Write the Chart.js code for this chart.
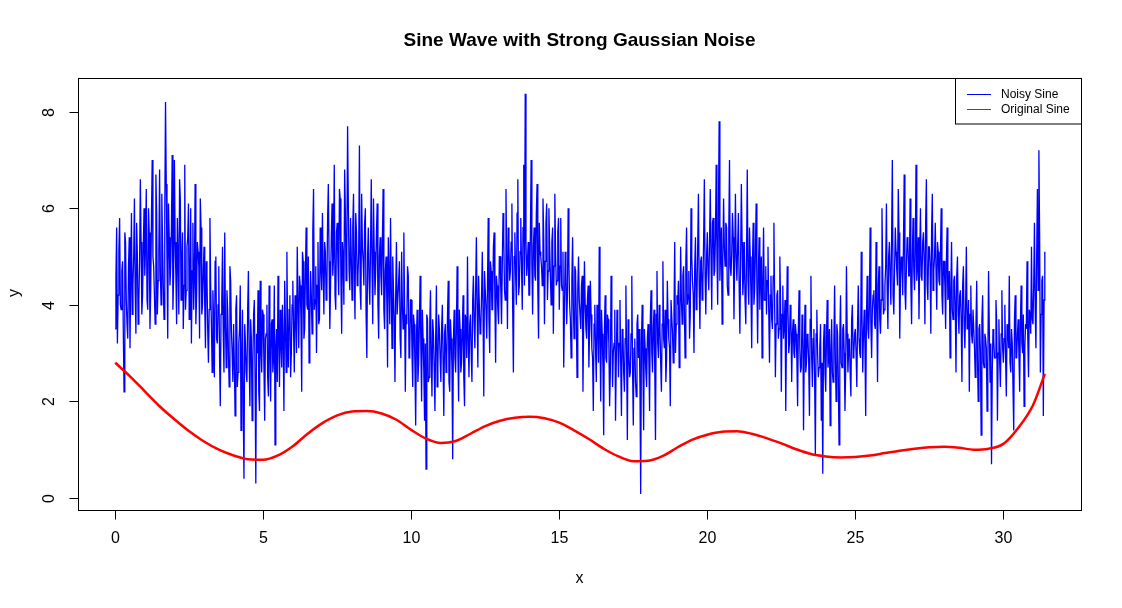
<!DOCTYPE html>
<html>
<head>
<meta charset="utf-8">
<script src="https://cdn.jsdelivr.net/npm/chart.js@4.4.1/dist/chart.umd.min.js"></script>
<style>
  html, body { margin: 0; padding: 0; background: #fff; }
  canvas { display: block; }
</style>
</head>
<body>
<canvas id="sine-chart" width="1122" height="608"></canvas>
<script>
(function () {
  // noisy series, sampled every 0.05 on x (0 .. 31.4), one row per unit of x
  var X_STEP = 0.05;
  var noisyY = [
    3.5, 5.6, 4.2, 5.8, 3.9, 4.9, 2.2, 5.3, 3.6, 4.8, 3.1, 5.9, 4.4, 6.2, 3.4, 5.0, 4.1, 6.6, 3.8, 5.2,
    4.6, 6.4, 3.9, 5.5, 4.3, 7.0, 4.8, 3.6, 5.9, 4.5, 6.8, 4.0, 5.3, 3.7, 8.2, 4.9, 6.1, 4.4, 5.6, 3.9,
    7.0, 4.6, 5.8, 3.8, 6.2, 4.9, 3.5, 6.9, 4.3, 5.4, 3.7, 6.0, 4.7, 3.9, 6.5, 4.2, 5.1, 3.3, 5.6, 4.0,
    5.2, 3.1, 4.6, 2.8, 5.8, 3.6, 4.3, 2.5, 5.0, 3.2, 4.8, 1.9, 4.1, 3.4, 5.5, 2.7, 3.9, 2.3, 4.5, 3.0,
    3.6, 1.7, 4.2, 2.6, 3.5, 1.4, 3.9, 0.4, 3.2, 2.4, 4.7, 1.9, 3.3, 2.8, 4.1, 0.3, 3.0, 2.2, 4.5, 2.6,
    3.8, 1.6, 3.4, 2.5, 4.4, 2.0, 3.7, 2.9, 1.1, 3.5, 4.6, 2.3, 3.2, 4.0, 1.8, 3.6, 5.1, 2.7, 4.2, 3.0,
    4.5, 2.6, 3.8, 5.2, 3.1, 4.4, 2.2, 4.9, 3.5, 5.6, 3.9, 2.8, 4.7, 3.4, 6.4, 4.1, 3.0, 5.3, 3.7, 4.8,
    5.9, 3.8, 5.1, 4.3, 6.5, 3.5, 5.4, 4.6, 6.9, 3.9, 5.7, 4.2, 6.2, 3.4, 5.0, 6.8, 4.5, 7.7, 4.7, 5.8,
    4.1, 6.3, 3.7, 5.5, 4.6, 7.3, 3.9, 5.2, 4.4, 6.0, 2.9, 5.6, 4.0, 6.6, 3.6, 5.1, 4.7, 6.1, 3.3, 5.4,
    4.2, 6.4, 3.5, 5.0, 2.7, 4.6, 5.8, 3.1, 4.3, 2.4, 5.3, 3.8, 4.9, 2.9, 4.0, 5.5, 2.2, 3.6, 4.6, 3.0,
    4.1, 2.3, 3.6, 1.5, 3.9, 2.8, 4.6, 2.0, 3.3, 1.6, 0.6, 3.7, 2.5, 4.3, 2.1, 3.4, 1.8, 4.4, 2.7, 3.5,
    2.4, 4.0, 1.7, 3.6, 2.9, 4.5, 2.2, 3.3, 0.8, 3.9, 2.6, 4.8, 2.0, 3.5, 2.8, 4.2, 1.9, 3.7, 5.0, 2.5,
    3.8, 2.4, 4.6, 3.1, 5.4, 2.7, 4.0, 3.5, 5.1, 2.1, 4.3, 3.3, 5.8, 3.0, 4.7, 3.9, 5.5, 2.8, 4.4, 3.6,
    5.0, 3.6, 5.9, 4.3, 6.4, 3.5, 5.2, 4.7, 6.1, 2.6, 5.5, 4.0, 6.6, 4.4, 5.8, 3.9, 6.9, 8.37, 4.6, 5.3,
    4.2, 7.0, 3.8, 5.6, 4.5, 6.5, 3.3, 5.1, 4.8, 6.2, 3.6, 5.7, 4.1, 6.0, 4.6, 5.3, 3.4, 6.3, 4.4, 5.5,
    3.9, 5.8, 4.3, 2.7, 5.1, 3.6, 6.0, 4.0, 2.9, 5.4, 3.3, 4.7, 2.5, 5.0, 3.8, 4.4, 2.2, 4.9, 3.5, 4.1,
    2.7, 4.5, 3.1, 1.8, 4.0, 2.4, 3.6, 5.2, 2.0, 3.4, 1.3, 4.2, 2.8, 3.7, 1.9, 4.6, 2.3, 3.2, 1.6, 3.9,
    2.5, 4.1, 1.7, 3.4, 2.2, 4.4, 1.2, 3.0, 2.6, 4.6, 1.5, 3.3, 2.1, 3.8, 3.5, 0.08, 4.0, 1.4, 3.1, 2.3,
    3.6, 1.8, 4.3, 2.6, 3.9, 1.2, 4.7, 2.9, 3.5, 2.2, 4.9, 3.1, 2.4, 4.5, 3.3, 1.9, 4.1, 2.8, 5.3, 3.6,
    4.0, 2.7, 5.2, 3.6, 4.8, 2.9, 5.6, 4.2, 3.3, 6.0, 4.5, 3.0, 5.4, 4.1, 6.3, 3.5, 5.0, 4.4, 6.6, 3.8,
    5.5, 4.3, 6.4, 3.9, 5.8, 4.7, 6.9, 4.0, 7.8, 5.1, 3.6, 6.2, 4.8, 5.6, 4.2, 7.0, 4.6, 5.9, 3.7, 6.3,
    4.5, 5.9, 3.4, 6.5, 4.2, 5.3, 3.6, 6.8, 4.0, 5.0, 3.1, 5.7, 4.3, 6.1, 3.2, 5.4, 4.7, 2.9, 5.6, 4.1,
    3.8, 5.2, 2.8, 4.6, 3.5, 5.7, 2.5, 4.2, 3.3, 5.0, 2.2, 4.4, 3.6, 1.8, 4.8, 3.0, 4.0, 2.4, 3.7, 2.9,
    3.4, 1.9, 4.3, 2.6, 3.8, 1.4, 4.0, 2.8, 3.3, 1.7, 4.6, 2.3, 3.5, 0.9, 3.9, 2.5, 3.1, 1.6, 0.5, 3.6,
    2.2, 4.1, 2.9, 1.5, 3.7, 2.4, 4.4, 2.0, 3.4, 1.1, 4.2, 2.7, 3.6, 1.8, 4.8, 2.6, 3.3, 2.1, 4.0, 3.0,
    3.5, 2.3, 4.4, 3.0, 5.1, 2.6, 3.9, 1.7, 4.6, 3.3, 5.6, 2.9, 4.2, 3.6, 5.3, 2.4, 4.8, 3.4, 6.0, 3.8,
    4.4, 6.1, 3.5, 5.3, 4.0, 7.0, 3.8, 5.6, 4.7, 6.4, 3.3, 5.0, 4.2, 6.7, 3.9, 5.4, 4.6, 6.2, 3.6, 5.8,
    4.3, 6.9, 4.8, 3.7, 6.0, 4.5, 5.5, 3.6, 6.6, 4.1, 5.2, 3.4, 6.3, 4.7, 5.7, 3.9, 5.1, 4.4, 6.0, 3.8,
    4.9, 3.5, 5.6, 4.2, 2.9, 5.3, 3.7, 4.6, 2.6, 5.0, 3.4, 4.3, 2.4, 4.8, 3.1, 5.2, 3.6, 2.2, 4.4, 3.2,
    3.9, 2.5, 4.5, 2.0, 3.6, 1.3, 4.2, 2.7, 3.3, 1.8, 4.7, 2.4, 0.7, 3.5, 2.9, 4.1, 1.6, 3.7, 2.3, 4.3,
    2.8, 4.0, 2.1, 3.5, 4.6, 2.6, 3.2, 1.4, 4.2, 2.9, 3.7, 2.2, 4.4, 3.0, 1.9, 3.6, 4.9, 2.5, 3.8, 5.2,
    3.6, 5.7, 3.1, 6.4, 7.2, 2.6, 4.5, 1.7, 5.1
  ];

  // in-between samples, each one 0.025 to the right of the matching noisyY sample
  var noisyMidY = [
    4.6, 3.2, 5.1, 4.0, 4.7, 3.4, 5.5, 4.1, 3.3, 5.4, 4.5, 3.8, 5.0, 4.3, 5.7, 3.6, 4.9, 5.3, 4.2, 6.0,
    5.2, 4.1, 6.0, 3.5, 5.8, 5.0, 4.2, 6.7, 3.8, 5.1, 4.7, 6.3, 4.4, 5.9, 6.5, 3.3, 5.4, 4.8, 7.1, 4.6,
    5.3, 3.6, 5.0, 6.6, 4.1, 5.5, 4.4, 3.9, 5.2, 6.1, 4.6, 3.2, 5.7, 4.5, 3.6, 5.3, 4.8, 6.2, 3.8, 4.7,
    4.0, 4.9, 3.5, 3.9, 4.4, 2.6, 3.7, 4.9, 3.3, 4.0, 2.9, 3.8, 5.2, 2.6, 3.6, 4.3, 3.0, 4.8, 3.5, 2.4,
    2.8, 3.9, 2.3, 3.2, 4.4, 2.9, 1.9, 3.6, 2.6, 3.9, 2.9, 3.7, 1.6, 3.8, 2.5, 3.4, 4.3, 1.8, 3.1, 3.9,
    2.7, 3.3, 4.0, 2.1, 3.0, 3.6, 2.6, 4.4, 3.1, 2.4, 3.3, 3.9, 2.7, 3.2, 4.5, 2.6, 3.4, 3.9, 2.5, 4.0,
    3.5, 4.2, 3.0, 4.0, 4.6, 3.7, 5.1, 3.3, 4.6, 4.0, 5.0, 3.6, 4.2, 5.5, 3.9, 4.8, 4.4, 3.6, 5.6, 4.3,
    4.7, 5.3, 4.1, 5.8, 4.9, 4.4, 6.1, 5.0, 4.2, 5.5, 4.8, 6.4, 4.5, 5.3, 4.0, 5.9, 5.2, 6.1, 4.3, 5.0,
    5.6, 4.7, 5.9, 4.4, 5.1, 4.3, 6.3, 4.9, 5.7, 3.8, 5.0, 4.5, 5.2, 4.8, 6.2, 4.2, 5.5, 4.0, 5.0, 4.6,
    5.3, 3.9, 4.7, 4.1, 5.4, 3.6, 4.4, 5.0, 3.7, 4.2, 3.8, 4.5, 3.3, 5.1, 3.5, 4.0, 3.8, 4.8, 2.9, 4.1,
    3.0, 3.8, 2.7, 3.3, 2.4, 3.6, 3.1, 3.9, 2.6, 3.2, 3.8, 2.4, 3.6, 2.9, 3.7, 2.7, 3.3, 2.3, 3.8, 2.9,
    3.5, 2.8, 3.4, 2.6, 3.8, 2.4, 3.7, 2.7, 3.3, 2.9, 3.5, 3.0, 3.9, 2.6, 3.4, 2.5, 3.8, 2.9, 3.3, 3.6,
    3.0, 4.1, 3.6, 4.3, 3.9, 4.6, 3.4, 4.2, 3.8, 4.7, 3.9, 4.4, 3.7, 4.9, 3.9, 5.2, 4.1, 4.6, 3.9, 5.0,
    4.3, 4.8, 5.4, 4.1, 4.9, 5.6, 4.5, 5.3, 4.0, 5.0, 4.6, 5.9, 4.2, 5.1, 4.8, 5.6, 4.4, 5.3, 4.9, 4.2,
    5.5, 4.8, 5.2, 4.6, 5.9, 4.3, 5.7, 5.0, 4.4, 5.4, 4.9, 6.1, 4.7, 5.2, 4.0, 5.6, 4.8, 5.1, 4.5, 5.8,
    4.8, 4.4, 5.1, 3.9, 4.6, 4.2, 4.9, 3.7, 4.5, 4.0, 4.8, 3.8, 4.3, 4.1, 3.5, 4.6, 3.7, 4.0, 3.3, 4.4,
    3.5, 3.8, 2.9, 3.6, 3.1, 4.0, 2.8, 3.3, 3.9, 2.7, 3.5, 2.9, 3.8, 3.2, 2.6, 3.6, 3.0, 3.9, 2.8, 3.4,
    3.2, 2.8, 3.5, 2.6, 3.3, 2.9, 3.7, 2.5, 3.4, 2.7, 3.1, 2.4, 3.6, 2.9, 2.3, 3.2, 2.7, 3.5, 2.6, 3.3,
    2.9, 3.7, 3.0, 3.5, 2.7, 3.8, 3.2, 4.0, 2.8, 3.6, 3.3, 3.9, 2.9, 3.7, 3.1, 4.1, 3.4, 3.8, 3.0, 4.2,
    4.5, 3.7, 4.1, 4.6, 3.9, 4.9, 4.0, 4.7, 3.8, 5.0, 4.2, 4.8, 3.9, 5.2, 4.4, 4.9, 4.1, 5.3, 4.6, 5.0,
    4.7, 5.3, 5.0, 5.7, 4.6, 5.4, 5.1, 5.8, 4.5, 5.6, 4.9, 5.2, 5.7, 4.4, 5.5, 4.8, 5.1, 5.4, 4.9, 5.0,
    5.2, 4.4, 4.9, 5.3, 4.6, 4.1, 5.0, 4.5, 5.6, 4.2, 4.8, 4.0, 5.1, 4.4, 4.7, 3.9, 5.0, 4.5, 4.1, 4.8,
    4.5, 3.9, 4.2, 3.7, 4.6, 4.0, 3.6, 4.3, 3.5, 4.0, 3.8, 3.3, 4.1, 3.5, 3.9, 3.2, 3.7, 3.4, 3.0, 3.6,
    2.9, 3.5, 3.1, 2.7, 3.6, 3.0, 2.6, 3.4, 2.8, 3.7, 2.9, 3.3, 2.5, 3.4, 3.0, 2.7, 3.6, 2.8, 3.2, 2.6,
    3.3, 2.7, 3.5, 3.0, 2.6, 3.2, 2.9, 3.6, 2.5, 3.3, 2.8, 3.5, 3.0, 2.7, 3.4, 3.1, 2.6, 3.7, 2.9, 3.4,
    3.0, 3.6, 3.3, 2.9, 3.8, 3.4, 3.1, 3.7, 3.5, 4.0, 3.6, 3.9, 4.3, 3.5, 3.9, 4.4, 3.7, 4.1, 4.6, 3.9,
    4.8, 4.3, 5.0, 4.6, 5.4, 4.2, 4.7, 5.1, 4.4, 5.5, 4.5, 4.9, 5.2, 4.3, 4.8, 5.3, 4.6, 4.4, 5.0, 4.7,
    5.1, 4.5, 5.4, 5.0, 4.6, 5.3, 4.9, 5.7, 4.4, 5.2, 4.8, 5.5, 4.3, 5.0, 4.7, 5.3, 4.5, 5.1, 4.2, 4.9,
    4.4, 4.9, 4.1, 4.7, 4.3, 3.9, 4.5, 4.0, 4.6, 3.8, 4.2, 3.7, 4.4, 3.6, 4.0, 3.5, 4.1, 3.8, 3.4, 3.9,
    3.1, 3.6, 2.9, 3.5, 3.0, 3.7, 2.8, 3.4, 3.1, 2.7, 3.5, 3.2, 2.6, 3.3, 2.9, 3.6, 3.0, 2.8, 3.4, 3.1,
    3.3, 2.9, 3.6, 3.1, 2.8, 3.5, 3.2, 3.7, 2.9, 3.4, 3.0, 3.6, 3.2, 3.8, 3.1, 3.5, 3.3, 3.9, 3.4, 3.7,
    4.4, 3.9, 5.0, 4.3, 5.4, 3.8, 4.6, 4.1
  ];

  var originalX = [
    0, 0.5, 1, 1.5, 2, 2.5, 3, 3.5, 4, 4.5, 5, 5.5, 6, 6.5, 7, 7.5, 8, 8.5, 9, 9.5,
    10, 10.5, 11, 11.5, 12, 12.5, 13, 13.5, 14, 14.5, 15, 15.5, 16, 16.5, 17, 17.5, 18, 18.5, 19, 19.5,
    20, 20.5, 21, 21.5, 22, 22.5, 23, 23.5, 24, 24.5, 25, 25.5, 26, 26.5, 27, 27.5, 28, 28.5, 29, 29.5,
    30, 30.5, 31, 31.4
  ];
  var originalY = [
    2.80, 2.52, 2.21, 1.90, 1.63, 1.38, 1.17, 1.00, 0.88, 0.80, 0.79, 0.88, 1.07, 1.33, 1.55, 1.71, 1.79, 1.80, 1.75, 1.62,
    1.41, 1.23, 1.14, 1.18, 1.33, 1.49, 1.60, 1.66, 1.68, 1.65, 1.56, 1.40, 1.22, 1.02, 0.86, 0.76, 0.77, 0.87, 1.05, 1.21,
    1.31, 1.37, 1.38, 1.33, 1.24, 1.13, 1.01, 0.91, 0.86, 0.84, 0.85, 0.88, 0.93, 0.98, 1.02, 1.05, 1.06, 1.04, 1.00, 1.02,
    1.12, 1.45, 1.92, 2.57
  ];

  var xTicks = [0, 5, 10, 15, 20, 25, 30];
  var yTicks = [0, 2, 4, 6, 8];
  var legendLabels = ["Noisy Sine", "Original Sine"];
  var legendColors = ["#0000ff", "#ff0000"];

  var FONT = "'Liberation Sans', Arial, sans-serif";

  function round3(v) {
    return Math.round(v * 1000) / 1000;
  }

  function noisyPoints() {
    var pts = [];
    noisyY.forEach(function (v, i) {
      pts.push({ x: round3(i * X_STEP), y: v });
      if (i < noisyMidY.length) {
        pts.push({ x: round3(i * X_STEP + X_STEP / 2), y: noisyMidY[i] });
      }
    });
    return pts;
  }

  function originalPoints() {
    return originalX.map(function (x, i) {
      return { x: x, y: originalY[i] };
    });
  }

  // R-style frame: box, outside ticks, titles and the legend
  var rFrame = {
    id: "rFrame",
    afterDraw: function (chart) {
      var ctx = chart.ctx;
      var area = chart.chartArea;
      var xs = chart.scales.x;
      var ys = chart.scales.y;
      var left = Math.round(area.left) + 0.5;
      var top = Math.round(area.top) + 0.5;
      var right = Math.round(area.right) - 0.5;
      var bottom = Math.round(area.bottom) + 0.5;

      ctx.save();
      ctx.strokeStyle = "#000";
      ctx.lineWidth = 1;
      ctx.strokeRect(left, top, right - left, bottom - top);

      ctx.fillStyle = "#000";
      ctx.font = "16px " + FONT;
      ctx.textAlign = "center";
      ctx.textBaseline = "middle";
      xTicks.forEach(function (t) {
        var px = Math.round(xs.getPixelForValue(t)) + 0.5;
        ctx.beginPath();
        ctx.moveTo(px, bottom);
        ctx.lineTo(px, bottom + 9);
        ctx.stroke();
        ctx.fillText(String(t), px, 539);
      });

      yTicks.forEach(function (t) {
        var py = Math.round(ys.getPixelForValue(t)) + 0.5;
        ctx.beginPath();
        ctx.moveTo(left, py);
        ctx.lineTo(left - 9, py);
        ctx.stroke();
        ctx.save();
        ctx.translate(50, py);
        ctx.rotate(-Math.PI / 2);
        ctx.fillText(String(t), 0, 0);
        ctx.restore();
      });

      ctx.fillText("x", 579.5, 579);
      ctx.save();
      ctx.translate(15, 293);
      ctx.rotate(-Math.PI / 2);
      ctx.fillText("y", 0, 0);
      ctx.restore();

      ctx.font = "bold 19px " + FONT;
      ctx.fillText("Sine Wave with Strong Gaussian Noise", 579.5, 41);

      // legend in the top right corner of the plot
      ctx.fillStyle = "#fff";
      ctx.fillRect(955.5, top, right - 955.5, 124 - top);
      ctx.strokeRect(955.5, top, right - 955.5, 124 - top);
      ctx.font = "12px " + FONT;
      ctx.textAlign = "left";
      legendLabels.forEach(function (label, i) {
        var ly = 94.5 + i * 15;
        ctx.strokeStyle = legendColors[i];
        ctx.beginPath();
        ctx.moveTo(967, ly);
        ctx.lineTo(991, ly);
        ctx.stroke();
        ctx.fillStyle = "#000";
        ctx.fillText(label, 1001, ly + 0.5);
      });
      ctx.restore();
    }
  };

  function init() {
    var canvas = document.getElementById("sine-chart");
    new Chart(canvas, {
      type: "line",
      data: {
        datasets: [
          {
            label: legendLabels[1],
            data: originalPoints(),
            borderColor: legendColors[1],
            borderWidth: 2.5,
            cubicInterpolationMode: "monotone",
            pointRadius: 0,
            fill: false
          },
          {
            label: legendLabels[0],
            data: noisyPoints(),
            borderColor: legendColors[0],
            borderWidth: 1.3,
            tension: 0,
            pointRadius: 0,
            fill: false
          }
        ]
      },
      options: {
        responsive: false,
        devicePixelRatio: 1,
        animation: false,
        parsing: false,
        layout: { padding: { left: 78, right: 40, top: 78, bottom: 98 } },
        scales: {
          x: { type: "linear", min: -1.256, max: 32.656, display: false },
          y: { type: "linear", min: -0.249, max: 8.697, display: false }
        },
        plugins: {
          legend: { display: false },
          tooltip: { enabled: false }
        }
      },
      plugins: [rFrame]
    });
  }

  document.addEventListener("DOMContentLoaded", init);
})();
</script>
</body>
</html>
